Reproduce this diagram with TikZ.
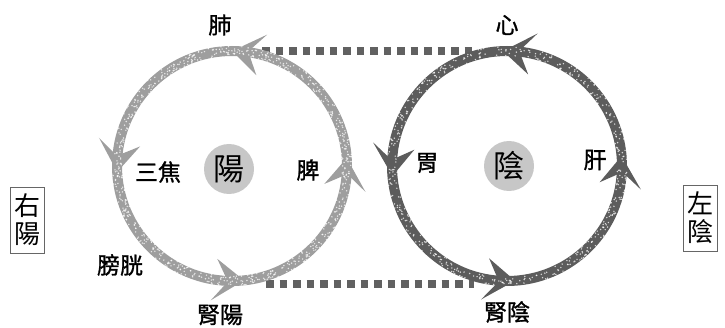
\documentclass[tikz,border=0pt]{standalone}
\usepackage{fontspec}
\newfontfamily\cjk[FakeBold=1.2]{Noto Sans CJK TC}
\newfontfamily\cjkthin{Noto Sans CJK TC}
\usetikzlibrary{calc}
\newcommand\ringhead[4]{%
  \fill[#4] ($(#1)+(#2:#3)$) -- ($(#1)+(#2-15:#3+21)$) -- ($(#1)+(#2-9:#3+3)$)
    -- ($(#1)+(#2-9:#3-3)$) -- ($(#1)+(#2-15:#3-21)$) -- cycle;}
\newcommand\speckle[3]{%
  \foreach \i in {1,...,#2}{%
    \pgfmathsetmacro\ang{360*rnd}\pgfmathsetmacro\rad{#3-5+10*rnd}%
    \fill[white,opacity=.75] ($(#1)+(\ang:\rad)$) circle (0.8);}}
\begin{document}
\begin{tikzpicture}[x=1pt,y=1pt,
  lbl/.style={font=\cjk\fontsize{23}{23}\selectfont, inner sep=0pt},
  mid/.style={circle, fill=black!22, minimum size=50pt, inner sep=0pt,
    font=\cjkthin\fontsize{31}{31}\selectfont},
  sidebox/.style={draw=black!60, line width=0.6pt, minimum width=34pt, minimum height=66pt,
    inner sep=0pt, align=center, font=\cjkthin\fontsize{26}{28}\selectfont},
  chain/.style={line width=7.5pt, black!62, dash pattern=on 7.5pt off 6pt},
  lring/.style={line width=10pt, black!38},
  rring/.style={line width=10pt, black!64}]
\useasboundingbox (0,0) rectangle (725,327);
\pgfmathsetseed{11}
\coordinate (L) at (232,161);
\coordinate (R) at (507,161);
% dotted links
\coordinate (lt) at (262,276);
\coordinate (rt) at (474,276);
\coordinate (lb) at (266,43);
\coordinate (rb) at (474,43);
\draw[chain] (lt) -- (rt);
\draw[chain] (lb) -- (rb);
% rings
\draw[lring] (L) circle (115);
\draw[rring] (R) circle (115);
\foreach \a in {90,183,276,4}{\ringhead{L}{\a}{115}{black!38}}
\foreach \a in {92,185,274,5}{\ringhead{R}{\a}{115}{black!64}}
\speckle{L}{700}{115}
\speckle{R}{500}{115}
% centre circles
\node[mid] (yang) at (229,158) {陽};
\node[mid] (yin) at (509,161) {陰};
% labels
\node[lbl] (fei) at (220,302) {肺};
\node[lbl] (sanjiao) at (158,155) {三焦};
\node[lbl] (pi) at (308,157) {脾};
\node[lbl] (pangguang) at (120,62) {膀胱};
\node[lbl] (shenyang) at (220,12) {腎陽};
\node[lbl] (xin) at (507,302) {心};
\node[lbl] (wei) at (427,164) {胃};
\node[lbl] (gan) at (595,167) {肝};
\node[lbl] (shenyin) at (507,15) {腎陰};
\node[sidebox] (youyang) at (27.5,107) {右\\陽};
\node[sidebox] (zuoyin) at (700,109) {左\\陰};
\end{tikzpicture}
\end{document}
